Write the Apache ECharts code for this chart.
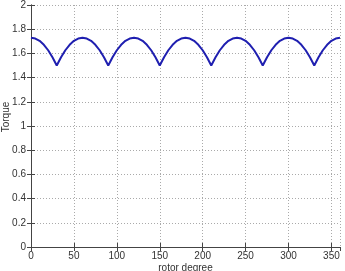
<!DOCTYPE html>
<html>
<head>
<meta charset="utf-8">
<script src="https://cdn.jsdelivr.net/npm/echarts@6/dist/echarts.min.js"></script>
<style>
  html, body { margin: 0; padding: 0; background: #fff; }
  #chart { width: 345px; height: 271px; }
</style>
</head>
<body>
<div id="chart"></div>
<script>
// rotor angle (deg) and torque
var degrees = [];
for (var d = 0; d <= 360; d += 5) degrees.push(d);
var torque = [
  1.73, 1.723, 1.704, 1.671, 1.626, 1.568, 1.50, 1.568, 1.626, 1.671, 1.704, 1.723,
  1.73, 1.723, 1.704, 1.671, 1.626, 1.568, 1.50, 1.568, 1.626, 1.671, 1.704, 1.723,
  1.73, 1.723, 1.704, 1.671, 1.626, 1.568, 1.50, 1.568, 1.626, 1.671, 1.704, 1.723,
  1.73, 1.723, 1.704, 1.671, 1.626, 1.568, 1.50, 1.568, 1.626, 1.671, 1.704, 1.723,
  1.73, 1.723, 1.704, 1.671, 1.626, 1.568, 1.50, 1.568, 1.626, 1.671, 1.704, 1.723,
  1.73, 1.723, 1.704, 1.671, 1.626, 1.568, 1.50, 1.568, 1.626, 1.671, 1.704, 1.723,
  1.73
];
var xName = "rotor degree";
var yName = "Torque";

var myChart = echarts.init(document.getElementById("chart"));
var axisCol = "#444";
var gridLine = { show: true, lineStyle: { color: "#aaa", type: [1, 2], width: 1 } };
var tickIn = { show: true, inside: true, length: 4, lineStyle: { color: axisCol } };
var tickFont = { fontFamily: "'Liberation Sans Narrow', 'Arial Narrow', 'Liberation Sans', sans-serif", fontSize: 10, color: "#333" };
var nameFont = { fontFamily: "Liberation Sans", fontSize: 10, color: "#333" };

var option = {
  animation: false,
  grid: { left: 31, right: 5, top: 5, bottom: 24, outerBoundsMode: "none", containLabel: false },
  xAxis: [{
    type: "value", min: 0, max: 360, interval: 50,
    name: xName, nameLocation: "middle", nameGap: 16, nameMoveOverlap: false,
    nameTextStyle: nameFont,
    axisLine: { show: true, lineStyle: { color: axisCol } },
    axisTick: tickIn,
    axisLabel: Object.assign({ margin: 4, showMaxLabel: false }, tickFont),
    splitLine: gridLine
  }, {
    type: "value", min: 0, max: 360, interval: 50, position: "top",
    axisLine: { show: true, lineStyle: { color: axisCol } },
    axisTick: tickIn, axisLabel: { show: false }, splitLine: { show: false }
  }],
  yAxis: [{
    type: "value", min: 0, max: 2, interval: 0.2,
    name: yName, nameLocation: "middle", nameGap: 20, nameMoveOverlap: false,
    nameTextStyle: Object.assign({ padding: [0, 0, 0, 18] }, nameFont),
    axisLine: { show: true, lineStyle: { color: axisCol } },
    axisTick: tickIn,
    axisLabel: Object.assign({ margin: 5 }, tickFont),
    splitLine: gridLine
  }, {
    type: "value", min: 0, max: 2, interval: 0.2, position: "right",
    axisLine: { show: true, lineStyle: { color: axisCol } },
    axisTick: tickIn, axisLabel: { show: false }, splitLine: { show: false }
  }],
  series: [{
    type: "line",
    data: degrees.map(function (x, i) { return [x, torque[i]]; }),
    showSymbol: false,
    lineStyle: { color: "#1f1fb0", width: 2 }
  }]
};
myChart.setOption(option);
</script>
</body>
</html>
